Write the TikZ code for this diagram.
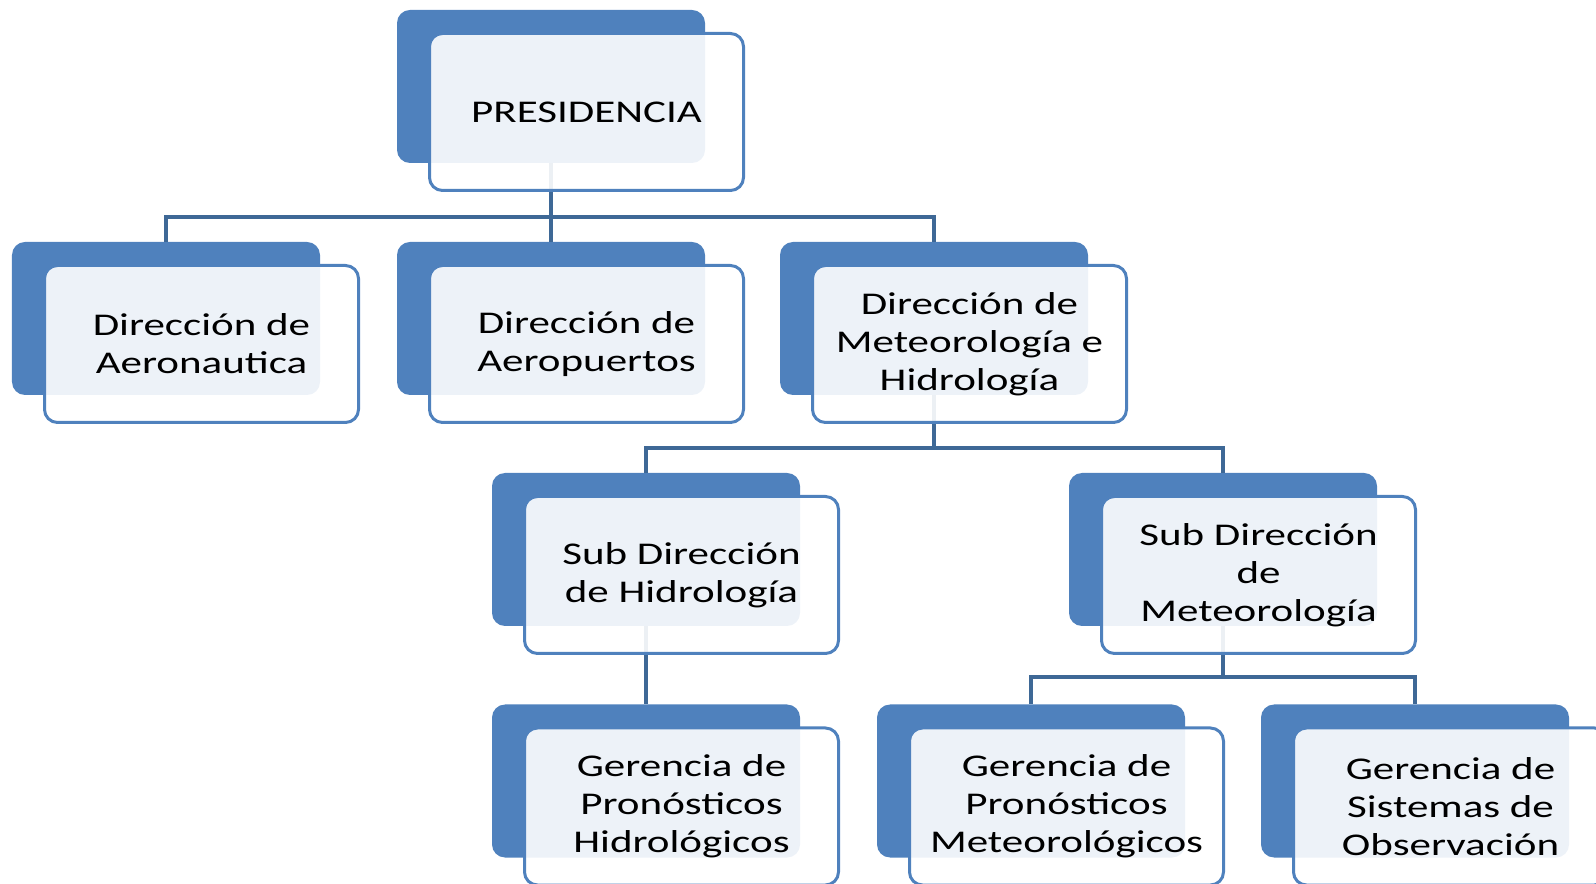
\documentclass[tikz,border=0pt]{standalone}
\usepackage{fontspec}
\setmainfont{Carlito}[FakeStretch=1.36]
\usepackage{tikz}

\definecolor{boxblue}{RGB}{79,129,189}
\definecolor{lineblue}{RGB}{62,104,150}

\begin{document}
\begin{tikzpicture}[
    backbox/.style={fill=boxblue, rounded corners=0.26cm, inner sep=0pt,
        minimum width=6.16cm, minimum height=3.06cm, xshift=-0.71cm, yshift=0.51cm},
    frontbox/.style={draw=boxblue, line width=0.06cm, fill=white, fill opacity=0.9,
        text opacity=1, rounded corners=0.26cm, inner sep=0pt, align=center,
        minimum width=6.28cm, minimum height=3.14cm, font=\fontsize{18}{21.7}\selectfont},
    link/.style={draw=lineblue, line width=0.08cm}
]
% Set manual bounding box
\useasboundingbox (0,0) rectangle (31.92,-17.68);

% Back boxes
\node[backbox] (pres-bg) at (11.73,-2.24) {};

\node[backbox] (aeron-bg) at (4.03,-6.88) {};
\node[backbox] (aerop-bg) at (11.73,-6.88) {};
\node[backbox] (meteo-bg) at (19.39,-6.88) {};

\node[backbox] (subhid-bg) at (13.63,-11.5) {};
\node[backbox] (submet-bg) at (25.17,-11.5) {};

\node[backbox] (gerhid-bg) at (13.63,-16.13) {};
\node[backbox] (germet-bg) at (21.33,-16.13) {};
\node[backbox] (gersis-bg) at (29.01,-16.13) {};

% Connections
\draw[link] (pres-bg.south) -- ++(0,-1.08) -| (aeron-bg.north);
\draw[link] (pres-bg.south) -- (aerop-bg.north);
\draw[link] (pres-bg.south) -- ++(0,-1.08) -| (meteo-bg.north);
\draw[link] (meteo-bg.south) -- ++(0,-1.06) -| (subhid-bg.north);
\draw[link] (meteo-bg.south) -- ++(0,-1.06) -| (submet-bg.north);
\draw[link] (subhid-bg.south) -- (gerhid-bg.north);
\draw[link] (submet-bg.south) -- ++(0,-1.02) -| (germet-bg.north);
\draw[link] (submet-bg.south) -- ++(0,-1.02) -| (gersis-bg.north);

% Text boxes
\node[frontbox] (pres) at (11.73,-2.24) {PRESIDENCIA};

\node[frontbox] (aeron) at (4.03,-6.88) {Dirección de\\Aeronautica};
\node[frontbox] (aerop) at (11.73,-6.88) {Dirección de\\Aeropuertos};
\node[frontbox] (meteo) at (19.39,-6.88) {Dirección de\\Meteorología e\\Hidrología};

\node[frontbox] (subhid) at (13.63,-11.5) {Sub Dirección\\de Hidrología};
\node[frontbox] (submet) at (25.17,-11.5) {Sub Dirección\\de\\Meteorología};

\node[frontbox] (gerhid) at (13.63,-16.13) {Gerencia de\\Pronósticos\\Hidrológicos};
\node[frontbox] (germet) at (21.33,-16.13) {Gerencia de\\Pronósticos\\Meteorológicos};
\node[frontbox] (gersis) at (29.01,-16.13) {Gerencia de\\Sistemas de\\Observación};

\end{tikzpicture}
\end{document}
